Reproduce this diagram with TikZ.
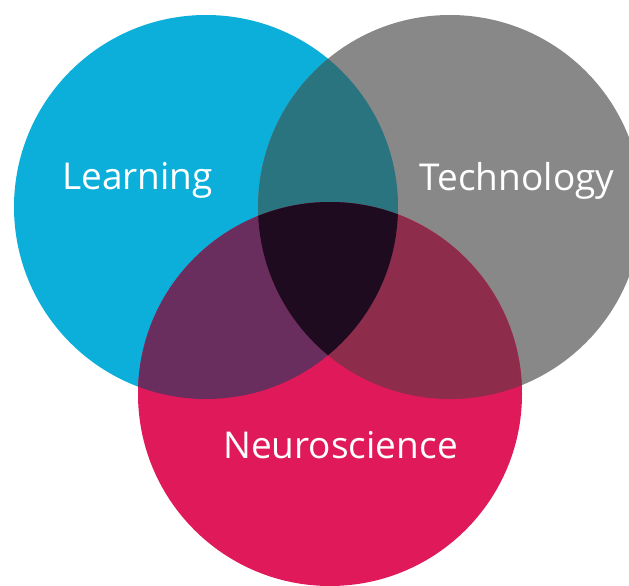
\documentclass[tikz,border=0pt]{standalone}
\usepackage{fontspec}
\setmainfont{Open Sans}
\definecolor{lblue}{HTML}{0BAFD9}
\definecolor{tgray}{HTML}{888888}
\definecolor{npink}{HTML}{E0195A}
\definecolor{ltcol}{HTML}{2A7480}
\definecolor{lncol}{HTML}{6A2E5E}
\definecolor{tncol}{HTML}{8D2C4B}
\definecolor{allcol}{HTML}{1F0B1F}
\tikzset{
  lbl/.style={text=white, font=\fontsize{37}{40}\selectfont, anchor=base, inner sep=0pt}
}
\begin{document}
\begin{tikzpicture}[x=1pt,y=-1pt]
\useasboundingbox (0,0) rectangle (629,586);
\clip (0,0) rectangle (629,586);
\coordinate (cL) at (206,207);
\coordinate (cT) at (450,207);
\coordinate (cN) at (330,394);
\def\rr{192}
\fill[lblue] (cL) circle[radius=\rr];
\fill[tgray] (cT) circle[radius=\rr];
\fill[npink] (cN) circle[radius=\rr];
\begin{scope}
  \clip (cL) circle[radius=\rr];
  \fill[ltcol] (cT) circle[radius=\rr];
  \fill[lncol] (cN) circle[radius=\rr];
\end{scope}
\begin{scope}
  \clip (cT) circle[radius=\rr];
  \fill[tncol] (cN) circle[radius=\rr];
\end{scope}
\begin{scope}
  \clip (cL) circle[radius=\rr];
  \clip (cT) circle[radius=\rr];
  \fill[allcol] (cN) circle[radius=\rr];
\end{scope}
\node[lbl] (learn) at (137.5,189) {Learning};
\node[lbl] (tech) at (517,190) {Technology};
\node[lbl] (neuro) at (340.5,458) {Neuroscience};
\end{tikzpicture}
\end{document}
